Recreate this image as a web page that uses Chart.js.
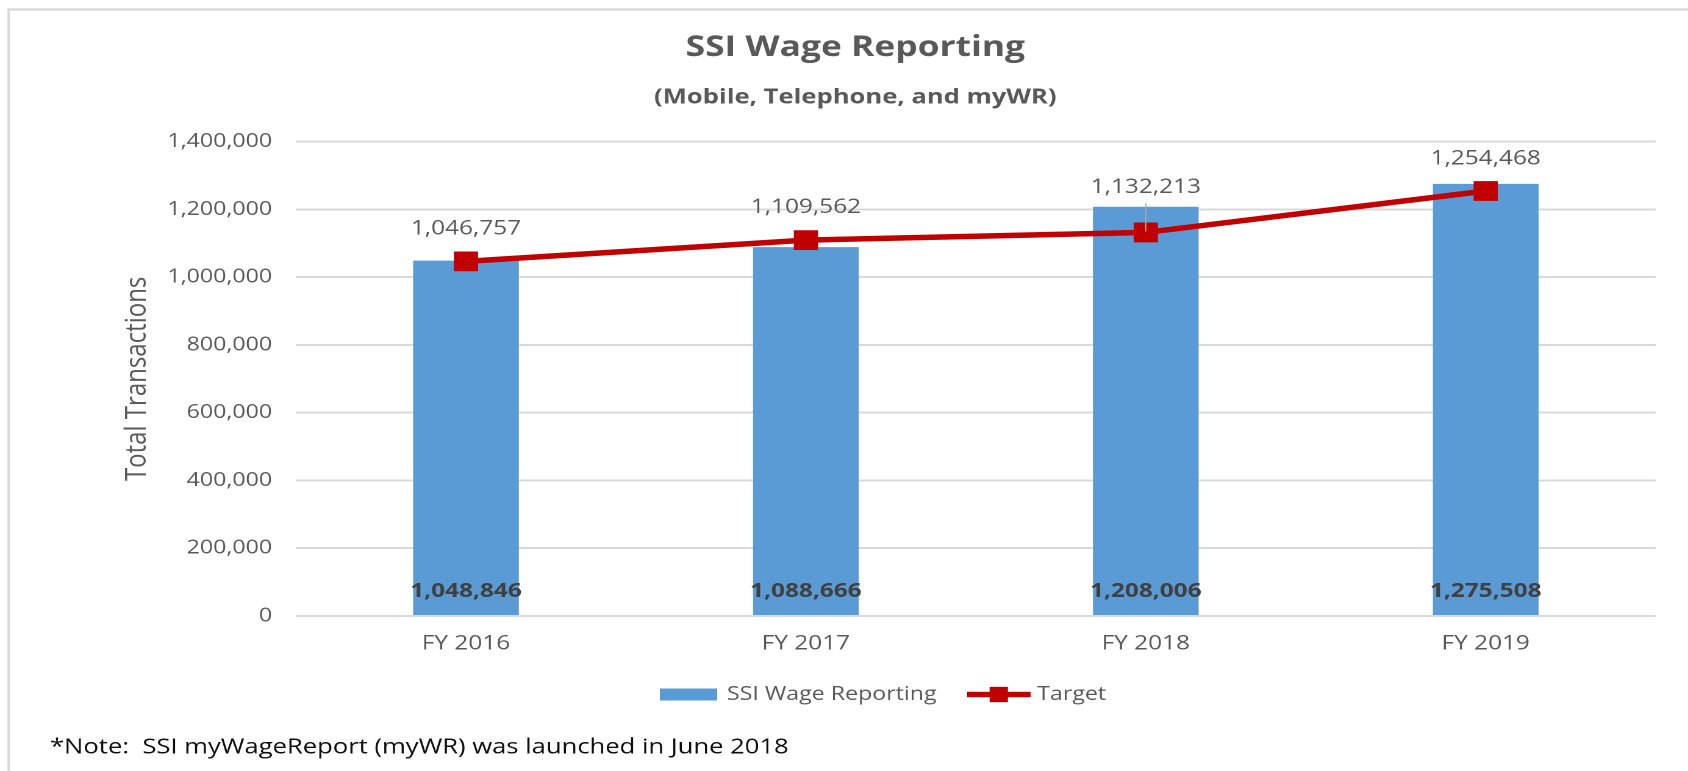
<!DOCTYPE html>
<html>
<head>
<meta charset="utf-8">
<script src="https://cdn.jsdelivr.net/npm/chart.js@4/dist/chart.umd.min.js"></script>
<style>
html,body{margin:0;padding:0;background:#fff;overflow:hidden;width:1688px;height:771px;}
#wrap{position:absolute;left:0;top:0;width:1384px;height:771px;transform-origin:0 0;transform:scaleX(1.219653);}
</style>
</head>
<body>
<div id="wrap"><canvas id="c" width="1384" height="771"></canvas></div>
<script>
// ---- data ----
const categories = ['FY 2016', 'FY 2017', 'FY 2018', 'FY 2019'];
const wageReporting = [1048846, 1088666, 1208006, 1275508];
const targetValues = [1046757, 1109562, 1132213, 1254468];
const seriesNames = ['SSI Wage Reporting', 'Target'];
const yMin = 0;
const yMax = 1400000;
const yStep = 200000;
const chartTitle = 'SSI Wage Reporting';
const chartSubtitle = '(Mobile, Telephone, and myWR)';
const yAxisTitle = 'Total Transactions';
const noteText = '*Note:  SSI myWageReport (myWR) was launched in June 2018';

// ---- styling / layout ----
const SX = 1688 / 1384;           // horizontal stretch of the original picture
const fx = v => v / SX;            // full-size x -> canvas x
const FONT = 'Open Sans';
const GREY = '#595959';
const BLUE = '#5b9bd5';
const RED = '#c00000';
const fmt = v => Number(v).toLocaleString('en-US');

function makeImg(w, h, draw) {
  const k = 3;
  const cv = document.createElement('canvas');
  cv.width = Math.round(w * k); cv.height = Math.round(h * k);
  const g = cv.getContext('2d');
  g.scale(k, k);
  draw(g, w, h);
  return new Promise(res => {
    const img = new Image();
    img.onload = () => { img.width = w; img.height = h; res(img); };
    img.src = cv.toDataURL();
  });
}

const decor = {
  id: 'decor',
  beforeDraw(chart) {
    const c = chart.ctx;
    c.save();
    c.strokeStyle = '#d9d9d9';
    c.lineWidth = 2.5;
    c.beginPath(); c.moveTo(fx(7.5), 9.5); c.lineTo(chart.width, 9.5); c.stroke();
    c.lineWidth = 2.5 / SX;
    c.beginPath(); c.moveTo(fx(8.7), 8.3); c.lineTo(fx(8.7), chart.height); c.stroke();
    c.restore();
  },
  afterDatasetsDraw(chart) {
    const c = chart.ctx;
    c.save();
    c.textAlign = 'center';
    c.textBaseline = 'middle';
    // bar labels (inside base)
    const bm = chart.getDatasetMeta(0);
    c.fillStyle = '#404040';
    c.font = 'bold 20px "' + FONT + '"';
    bm.data.forEach((el, i) => {
      c.fillText(fmt(chart.data.datasets[0].data[i]), el.x, el.base - 23.6);
    });
    // line labels (above)
    const lm = chart.getDatasetMeta(1);
    const offs = chart.options.plugins.decor.lineLabelOffsets;
    c.fillStyle = GREY;
    c.font = '20px "' + FONT + '"';
    lm.data.forEach((el, i) => {
      const off = offs[i];
      c.fillText(fmt(chart.data.datasets[1].data[i]), el.x, el.y - off);
      if (off > 40) {
        c.strokeStyle = '#a6a6a6';
        c.lineWidth = 1.2 / SX;
        c.beginPath(); c.moveTo(el.x, el.y - off + 16); c.lineTo(el.x, el.y - 1); c.stroke();
      }
    });
    c.restore();
  },
  afterLayout(chart) {
    const dx = chart.options.plugins.decor.legendShift;
    if (chart.legend) { chart.legend.left += dx; chart.legend.right += dx; }
  },
  afterDraw(chart) {
    const c = chart.ctx;
    c.save();
    c.fillStyle = '#0d0d0d';
    c.font = '21px "' + FONT + '"';
    c.textAlign = 'left';
    c.textBaseline = 'middle';
    c.fillText(noteText, fx(50), 747.4);
    c.restore();
  }
};

Promise.all([
  makeImg(47, 12, (g, w, h) => { g.fillStyle = BLUE; g.fillRect(0, 0, w, h); }),
  makeImg(52, 16, (g, w, h) => {
    g.strokeStyle = RED; g.lineWidth = 5.5;
    g.beginPath(); g.moveTo(0, h / 2); g.lineTo(w, h / 2); g.stroke();
    g.fillStyle = RED; g.fillRect(w / 2 - 7.5, 0.3, 15, 15.4);
  })
]).then(([barImg, lineImg]) => {
  const swatches = [barImg, lineImg];
  new Chart(document.getElementById('c'), {
    type: 'bar',
    data: {
      labels: categories,
      datasets: [
        {
          type: 'bar', label: seriesNames[0], data: wageReporting,
          backgroundColor: BLUE, borderWidth: 0,
          barPercentage: 0.311, categoryPercentage: 1, order: 2
        },
        {
          type: 'line', label: seriesNames[1], data: targetValues,
          borderColor: RED, backgroundColor: RED, borderWidth: 5.5,
          pointStyle: 'rect', pointRadius: 13.3, pointBorderWidth: 1,
          pointBackgroundColor: RED, pointBorderColor: RED,
          tension: 0, order: 1
        }
      ]
    },
    options: {
      responsive: false,
      animation: false,
      devicePixelRatio: 2,
      layout: { padding: { left: 45, right: 26.5, top: 0, bottom: 57 } },
      plugins: {
        decor: { lineLabelOffsets: [32.5, 33, 45, 32], legendShift: 23.5 },
        title: {
          display: true, text: chartTitle, color: GREY,
          font: { family: FONT, size: 29, weight: 'bold', lineHeight: 1.2 },
          padding: { top: 30.2, bottom: 0 }
        },
        subtitle: {
          display: true, text: chartSubtitle, color: GREY,
          font: { family: FONT, size: 21, weight: 'bold', lineHeight: 1.2 },
          padding: { top: 19.7, bottom: 31.8 }
        },
        legend: {
          position: 'bottom',
          labels: {
            usePointStyle: true, pointStyleWidth: 44, padding: 29,
            color: GREY, font: { family: FONT, size: 19 },
            generateLabels(chart) {
              const items = Chart.defaults.plugins.legend.labels.generateLabels(chart);
              items.sort((a, b) => a.datasetIndex - b.datasetIndex);
              items.forEach(it => { it.pointStyle = swatches[it.datasetIndex]; it.lineWidth = 0; });
              return items;
            }
          }
        },
        tooltip: { enabled: false }
      },
      scales: {
        x: {
          grid: { display: false, drawTicks: false }, border: { display: false },
          ticks: { color: GREY, font: { family: FONT, size: 20 }, padding: 16 },
          afterFit(s) { s.height = 40; }
        },
        y: {
          min: yMin, max: yMax,
          border: { display: false },
          grid: { color: '#d9d9d9', lineWidth: 2, drawTicks: false },
          ticks: {
            stepSize: yStep, color: GREY, font: { family: FONT, size: 19 }, padding: 19.6,
            callback: v => fmt(v)
          },
          title: {
            display: true, text: yAxisTitle, color: GREY,
            font: { family: FONT, size: 24 }, padding: { top: 53.3, bottom: 0 }
          },
          afterFit(s) { s.width = 197.7; }
        }
      }
    },
    plugins: [decor]
  });
});
</script>
</body>
</html>
